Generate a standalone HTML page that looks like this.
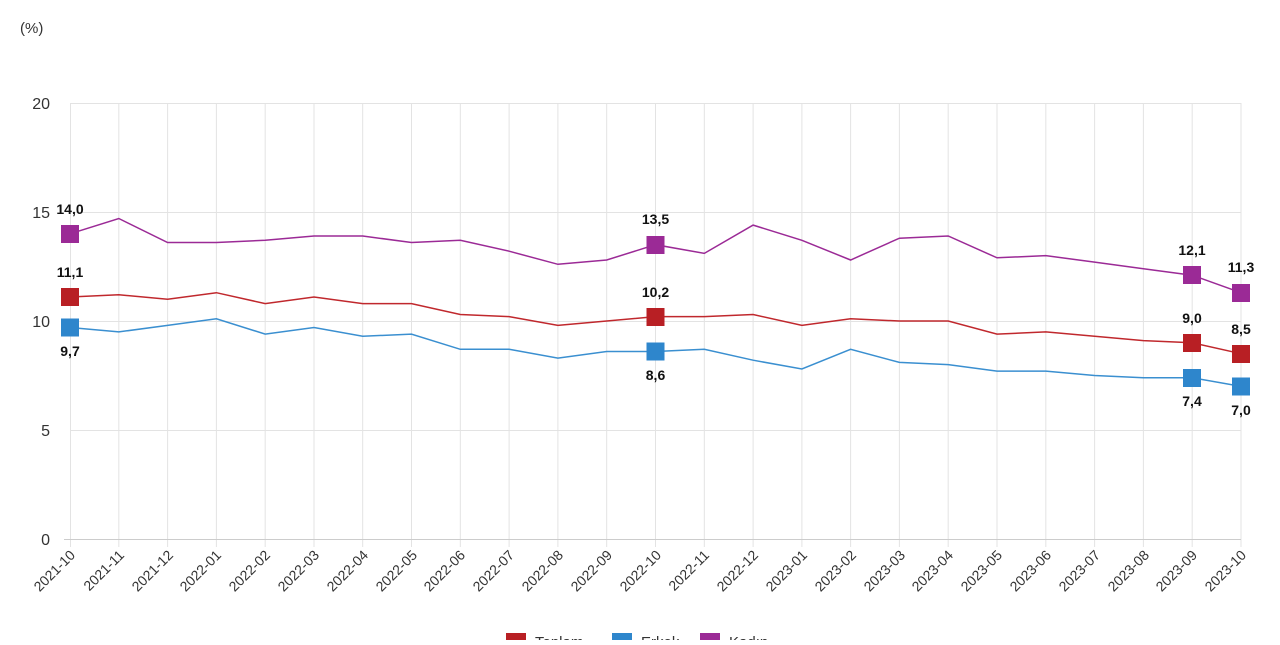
<!DOCTYPE html><html><head><meta charset="utf-8"><style>body{margin:0;background:#fff;width:1280px;height:640px;overflow:hidden}svg{font-family:"Liberation Sans",sans-serif}</style></head><body>
<svg width="1280" height="640" xmlns="http://www.w3.org/2000/svg">
<text x="20" y="33" font-size="15" fill="#333">(%)</text>
<g stroke="#e3e3e3" stroke-width="1">
<line x1="70" y1="103.5" x2="1241" y2="103.5"/><line x1="70" y1="212.5" x2="1241" y2="212.5"/><line x1="70" y1="321.5" x2="1241" y2="321.5"/><line x1="70" y1="430.5" x2="1241" y2="430.5"/>
<path d="M70.5 103V547M118.8 103V547M167.6 103V547M216.4 103V547M265.2 103V547M314 103V547M362.7 103V547M411.5 103V547M460.3 103V547M509.1 103V547M557.9 103V547M606.7 103V547M655.5 103V547M704.3 103V547M753.1 103V547M801.9 103V547M850.6 103V547M899.4 103V547M948.2 103V547M997 103V547M1045.8 103V547M1094.6 103V547M1143.4 103V547M1192.2 103V547M1241 103V547"/>
</g>
<line x1="64" y1="539.5" x2="1241" y2="539.5" stroke="#ccc"/>
<g font-size="16" fill="#333" text-anchor="end">
<text x="50" y="109">20</text><text x="50" y="218">15</text><text x="50" y="327">10</text><text x="50" y="436">5</text><text x="50" y="545">0</text></g>
<g font-size="14" fill="#333" text-anchor="end">
<text transform="translate(76,556) rotate(-45)">2021-10</text><text transform="translate(125,556) rotate(-45)">2021-11</text><text transform="translate(174,556) rotate(-45)">2021-12</text><text transform="translate(222,556) rotate(-45)">2022-01</text><text transform="translate(271,556) rotate(-45)">2022-02</text><text transform="translate(320,556) rotate(-45)">2022-03</text><text transform="translate(369,556) rotate(-45)">2022-04</text><text transform="translate(418,556) rotate(-45)">2022-05</text><text transform="translate(466,556) rotate(-45)">2022-06</text><text transform="translate(515,556) rotate(-45)">2022-07</text><text transform="translate(564,556) rotate(-45)">2022-08</text><text transform="translate(613,556) rotate(-45)">2022-09</text><text transform="translate(662,556) rotate(-45)">2022-10</text><text transform="translate(710,556) rotate(-45)">2022-11</text><text transform="translate(759,556) rotate(-45)">2022-12</text><text transform="translate(808,556) rotate(-45)">2023-01</text><text transform="translate(857,556) rotate(-45)">2023-02</text><text transform="translate(906,556) rotate(-45)">2023-03</text><text transform="translate(954,556) rotate(-45)">2023-04</text><text transform="translate(1003,556) rotate(-45)">2023-05</text><text transform="translate(1052,556) rotate(-45)">2023-06</text><text transform="translate(1101,556) rotate(-45)">2023-07</text><text transform="translate(1150,556) rotate(-45)">2023-08</text><text transform="translate(1198,556) rotate(-45)">2023-09</text><text transform="translate(1247,556) rotate(-45)">2023-10</text></g>
<g fill="none" stroke-width="1.5">
<polyline stroke="#9b2a96" points="70,233.8 118.8,218.5 167.6,242.5 216.4,242.5 265.2,240.3 314,236 362.7,236 411.5,242.5 460.3,240.3 509.1,251.2 557.9,264.3 606.7,260 655.5,244.7 704.3,253.4 753.1,225.1 801.9,240.3 850.6,260 899.4,238.2 948.2,236 997,257.8 1045.8,255.6 1094.6,262.1 1143.4,268.7 1192.2,275.2 1241,292.7"/>
<polyline stroke="#c0282d" points="70,297 118.8,294.8 167.6,299.2 216.4,292.7 265.2,303.6 314,297 362.7,303.6 411.5,303.6 460.3,314.5 509.1,316.6 557.9,325.4 606.7,321 655.5,316.6 704.3,316.6 753.1,314.5 801.9,325.4 850.6,318.8 899.4,321 948.2,321 997,334.1 1045.8,331.9 1094.6,336.3 1143.4,340.6 1192.2,342.8 1241,353.7"/>
<polyline stroke="#3a8fd0" points="70,327.5 118.8,331.9 167.6,325.4 216.4,318.8 265.2,334.1 314,327.5 362.7,336.3 411.5,334.1 460.3,349.3 509.1,349.3 557.9,358.1 606.7,351.5 655.5,351.5 704.3,349.3 753.1,360.2 801.9,369 850.6,349.3 899.4,362.4 948.2,364.6 997,371.1 1045.8,371.1 1094.6,375.5 1143.4,377.7 1192.2,377.7 1241,386.4"/>
</g>
<g fill="#9b2a96"><rect x="61" y="225" width="18" height="18"/><rect x="646.5" y="236" width="18" height="18"/><rect x="1183" y="266" width="18" height="18"/><rect x="1232" y="284" width="18" height="18"/></g>
<g fill="#b81f24"><rect x="61" y="288" width="18" height="18"/><rect x="646.5" y="308" width="18" height="18"/><rect x="1183" y="334" width="18" height="18"/><rect x="1232" y="345" width="18" height="18"/></g>
<g fill="#2e86cc"><rect x="61" y="318.5" width="18" height="18"/><rect x="646.5" y="342.5" width="18" height="18"/><rect x="1183" y="369" width="18" height="18"/><rect x="1232" y="377.5" width="18" height="18"/></g>
<g font-size="14" font-weight="bold" fill="#111" text-anchor="middle">
<text x="70" y="214">14,0</text><text x="655.5" y="224">13,5</text><text x="1192" y="255">12,1</text><text x="1241" y="272">11,3</text>
<text x="70" y="277">11,1</text><text x="655.5" y="297">10,2</text><text x="1192" y="323">9,0</text><text x="1241" y="334">8,5</text>
<text x="70" y="356">9,7</text><text x="655.5" y="380">8,6</text><text x="1192" y="406">7,4</text><text x="1241" y="415">7,0</text></g>
<rect x="506" y="633" width="20" height="10" fill="#b81f24"/><text x="535" y="647" font-size="15" fill="#333">Toplam</text>
<rect x="612" y="633" width="20" height="10" fill="#2e86cc"/><text x="641" y="647" font-size="15" fill="#333">Erkek</text>
<rect x="700" y="633" width="20" height="10" fill="#9b2a96"/><text x="729" y="647" font-size="15" fill="#333">Kadın</text>
</svg></body></html>
